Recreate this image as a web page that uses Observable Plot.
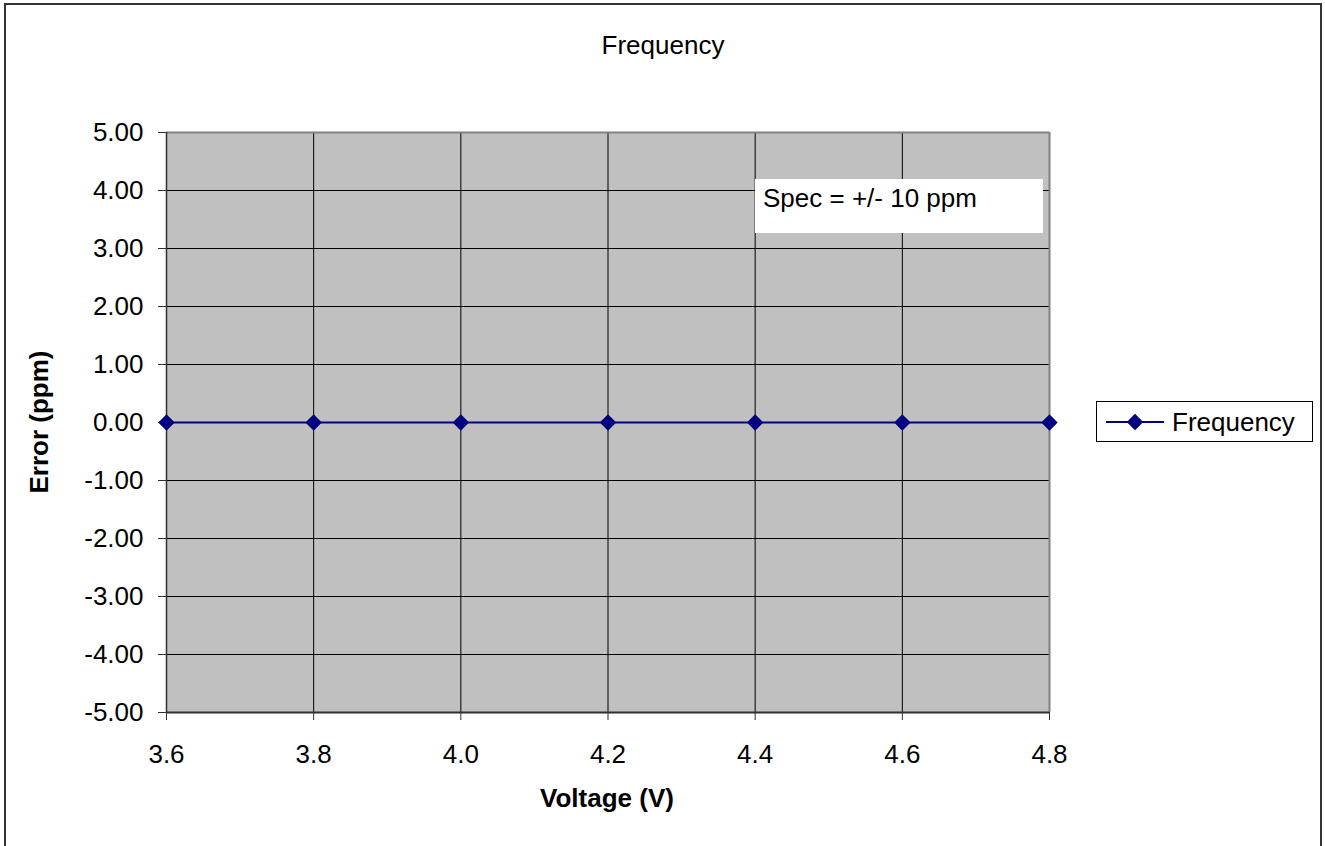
<!DOCTYPE html>
<html><head><meta charset="utf-8">
<script src="https://cdn.jsdelivr.net/npm/d3@7"></script>
<script src="https://cdn.jsdelivr.net/npm/@observablehq/plot@0.6"></script>
<style>
body{margin:0;background:#fff;overflow:hidden;}
#wrap{position:relative;width:1325px;height:846px;}
</style></head><body><div id="wrap"></div>
<script>
const voltages = [3.6, 3.8, 4.0, 4.2, 4.4, 4.6, 4.8];
const errorPpm = [0, 0, 0, 0, 0, 0, 0];
const xTicks = [3.6, 3.8, 4.0, 4.2, 4.4, 4.6, 4.8];
const yTicks = [-5, -4, -3, -2, -1, 0, 1, 2, 3, 4, 5];
const seriesName = "Frequency";
const titleText = "Frequency";
const xLabel = "Voltage (V)";
const yLabel = "Error (ppm)";
const noteText = "Spec = +/- 10 ppm";

const data = voltages.map((v, i) => ({v, e: errorPpm[i]}));
const navy = "#000080";
const font = "'Liberation Sans', Arial, sans-serif";
const markerR = 7.4;

const svg = Plot.plot({
  width: 1325, height: 846,
  marginLeft: 166, marginRight: 276, marginTop: 132, marginBottom: 134,
  style: {fontFamily: font, fontSize: "26px", color: "black", background: "white"},
  x: {domain: [3.6, 4.8]},
  y: {domain: [-5, 5]},
  marks: [
    Plot.frame({fill: "#c0c0c0", stroke: null}),
    Plot.gridY(yTicks, {stroke: "black", strokeOpacity: 1, strokeWidth: 1}),
    Plot.gridX(xTicks, {stroke: "black", strokeOpacity: 1, strokeWidth: 1}),
    Plot.ruleY([5], {stroke: "#808080", strokeWidth: 2}),
    Plot.ruleX([4.8], {stroke: "#808080", strokeWidth: 2}),
    Plot.ruleX([3.6], {stroke: "#303030", strokeWidth: 1.5}),
    Plot.ruleY([-5], {stroke: "#303030", strokeWidth: 2}),
    Plot.axisY(yTicks, {tickSize: 8, tickPadding: 15, tickFormat: d => d.toFixed(2), label: null, stroke: "#303030", fontSize: 26}),
    Plot.axisX(xTicks, {tickSize: 8, tickPadding: 24, tickFormat: d => d.toFixed(1), label: null, stroke: "#303030", fontSize: 26}),
    Plot.line(data, {x: "v", y: "e", stroke: navy, strokeWidth: 2}),
    Plot.dot(data, {x: "v", y: "e", symbol: "diamond2", r: markerR, fill: navy, stroke: null})
  ]
});
document.getElementById("wrap").appendChild(svg);

const s = d3.select(svg);
// outer chart border
s.append("rect").attr("x", 5).attr("y", 4).attr("width", 1316).attr("height", 900)
  .attr("fill", "none").attr("stroke", "#333").attr("stroke-width", 2);
// title
s.append("text").attr("x", 663).attr("y", 54).attr("text-anchor", "middle")
  .attr("font-size", 26).attr("fill", "black").text(titleText);
// axis titles
s.append("text").attr("x", 607).attr("y", 807).attr("text-anchor", "middle")
  .attr("font-size", 26).attr("font-weight", "bold").attr("fill", "black").text(xLabel);
s.append("text").attr("transform", "translate(48,422) rotate(-90)").attr("text-anchor", "middle")
  .attr("font-size", 26).attr("font-weight", "bold").attr("fill", "black").text(yLabel);
// spec note box
s.append("rect").attr("x", 755).attr("y", 179).attr("width", 288).attr("height", 54).attr("fill", "white");
s.append("text").attr("x", 763).attr("y", 207).attr("text-anchor", "start")
  .attr("font-size", 26).attr("fill", "black").text(noteText);
// legend
const lg = s.append("g");
lg.append("rect").attr("x", 1096.5).attr("y", 401.5).attr("width", 216).attr("height", 40)
  .attr("fill", "white").attr("stroke", "black").attr("stroke-width", 1);
lg.append("line").attr("x1", 1106).attr("x2", 1164).attr("y1", 422).attr("y2", 422)
  .attr("stroke", navy).attr("stroke-width", 2);
lg.append("path").attr("transform", "translate(1135,422)")
  .attr("d", d3.symbol(d3.symbolDiamond2, Math.PI * markerR * markerR)()).attr("fill", navy);
lg.append("text").attr("x", 1172).attr("y", 431).attr("text-anchor", "start")
  .attr("font-size", 26).attr("fill", "black").text(seriesName);
</script>
</body></html>
